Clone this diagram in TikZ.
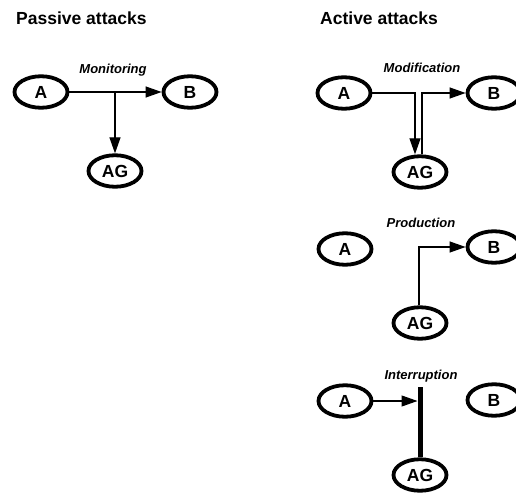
\documentclass[tikz,border=0pt]{standalone}
\usepackage{fontspec}
\setmainfont{Liberation Sans}
\usetikzlibrary{arrows.meta,shapes.geometric}

\tikzset{
  party/.style={ellipse, draw, line width=3.8pt, minimum width=53pt,
    minimum height=31.5pt, inner sep=0pt,
    font=\bfseries\fontsize{17.5}{18}\selectfont},
  heading/.style={anchor=base west, inner sep=0pt,
    font=\bfseries\fontsize{17.5}{18}\selectfont},
  kind/.style={anchor=base, inner sep=0pt,
    font=\bfseries\itshape\fontsize{13}{14}\selectfont},
  flow/.style={line width=1.2pt, -{Triangle[length=16pt,width=11pt]}},
  cut/.style={line width=5pt}
}

\begin{document}
\begin{tikzpicture}[x=1pt,y=-1pt]
\useasboundingbox (0,0) rectangle (516,497);

% ---------- passive attacks ----------
\node[heading] (hPass) at (16,25) {Passive attacks};
\node[kind] (kMon) at (113,74) {Monitoring};
\node[party] (pA)  at (41,92)   {A};
\node[party] (pB)  at (190,92)  {B};
\node[party] (pAG) at (115,171) {AG};
\draw[flow] (pA) -- (pB);
\draw[flow] (pA.east -| pAG.north) -- (pAG.north);

% ---------- active attacks ----------
\node[heading] (hAct) at (320,25) {Active attacks};

% modification
\node[kind] (kMod) at (422,73) {Modification};
\node[party] (mA)  at (344,93)  {A};
\node[party] (mB)  at (494,93)  {B};
\node[party] (mAG) at (420,172) {AG};
\draw[flow] (mA.east) -| ([xshift=-5pt]mAG.north);
\draw[flow] ([xshift=2pt]mAG.north) |- (mB.west);

% production
\node[kind] (kProd) at (421,227) {Production};
\node[party] (rA)  at (345,249) {A};
\node[party] (rB)  at (494,247) {B};
\node[party] (rAG) at (420,323) {AG};
\draw[flow] ([xshift=-1pt]rAG.north) |- (rB.west);

% interruption
\node[kind] (kInt) at (421,379) {Interruption};
\node[party] (iA)  at (345,401) {A};
\node[party] (iB)  at (494,400) {B};
\node[party] (iAG) at (420,475) {AG};
\coordinate (brk) at (420,387);
\draw[cut] (brk) -- (iAG.north);
\draw[flow, shorten >=2.5pt] (iA.east) -- (iA.east -| brk);
\end{tikzpicture}
\end{document}
